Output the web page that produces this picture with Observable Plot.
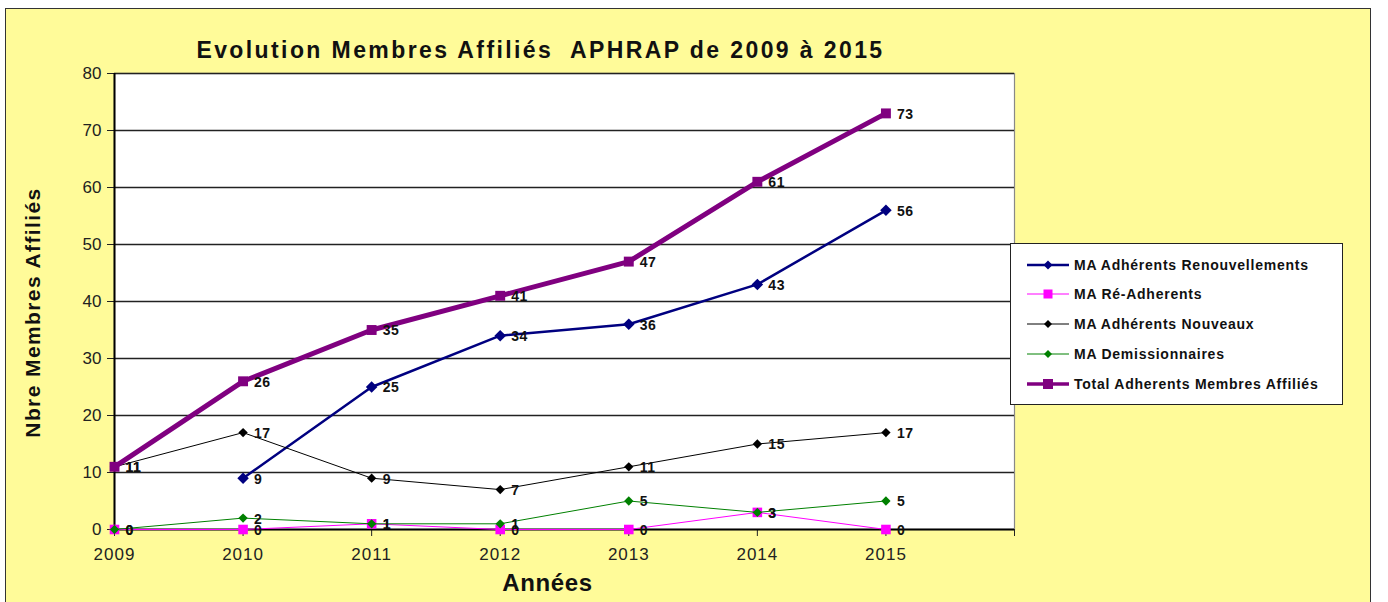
<!DOCTYPE html>
<html>
<head>
<meta charset="utf-8">
<script src="https://cdn.jsdelivr.net/npm/d3@7"></script>
<script src="https://cdn.jsdelivr.net/npm/@observablehq/plot@0.6"></script>
<style>
  body { margin: 0; background: #fff; font-family: "Liberation Sans", Arial, sans-serif; }
  #wrap { position: relative; width: 1388px; height: 602px; overflow: hidden; background: #fff; }
  #bg { position: absolute; left: 5px; top: 8px; width: 1366px; height: 640px; background: #FFFB99; border: 1.5px solid #333; box-sizing: border-box; }
  #chart { position: absolute; left: 0; top: 0; }
  #legend { position: absolute; left: 1010px; top: 243px; width: 333px; height: 162px; background: #fff; border: 1.5px solid #222; box-sizing: border-box; }
  .row { position: absolute; left: 16px; height: 16px; display: flex; align-items: center; }
  .row span { font-size: 14px; font-weight: bold; color: #111; margin-left: 5px; white-space: nowrap; letter-spacing: 0.75px; }
  .t-title text { letter-spacing: 2.4px; }
  .t-ylabel text { letter-spacing: 1.4px; }
  .t-xlabel text { letter-spacing: 0.6px; }
  .t-xaxis text { letter-spacing: 1px; }
  .t-values text { letter-spacing: 0.5px; }
</style>
</head>
<body>
<div id="wrap">
  <div id="bg"></div>
  <div id="chart"></div>
  <div id="legend"></div>
</div>
<script>
// ---- data ----
const years = [2009, 2010, 2011, 2012, 2013, 2014, 2015];
const renouvellements = [null, 9, 25, 34, 36, 43, 56];
const reAdherents = [0, 0, 1, 0, 0, 3, 0];
const nouveaux = [11, 17, 9, 7, 11, 15, 17];
const demissionnaires = [0, 2, 1, 1, 5, 3, 5];
const total = [11, 26, 35, 41, 47, 61, 73];
const seriesNames = [
  "MA Adhérents Renouvellements",
  "MA Ré-Adherents",
  "MA Adhérents Nouveaux",
  "MA Demissionnaires",
  "Total Adherents Membres Affiliés"
];
const yTicks = [0, 10, 20, 30, 40, 50, 60, 70, 80];
const xTicks = [2009, 2010, 2011, 2012, 2013, 2014, 2015, 2016];
const titleText = "Evolution Membres Affiliés\u00a0 APHRAP de 2009 à 2015";
const yLabel = "Nbre Membres Affiliés";
const xLabel = "Années";

// ---- styles ----
const seriesValues = [renouvellements, reAdherents, nouveaux, demissionnaires, total];
const colors = ["#000080", "#FF00FF", "#000000", "#008000", "#800080"];
const widths = [2.5, 1, 1, 1, 5];
const symbols = ["diamond2", "square", "diamond2", "diamond2", "square"];
const radii = [5.2, 5.4, 4.2, 4.2, 5.6];

const seriesData = seriesValues.map((vals, i) =>
  years.map((yr, j) => ({year: yr, value: vals[j], series: seriesNames[i]}))
       .filter(d => d.value !== null)
);
const allPoints = seriesData.flat();

const marks = [
  Plot.frame({fill: "white", stroke: "#888", strokeWidth: 1.2}),
  Plot.ruleY(yTicks.filter(d => d > 0), {y: d => d, stroke: "#222", strokeWidth: 1.3}),
  Plot.axisY({ticks: yTicks, tickSize: 7, tickPadding: 6, fontSize: 17, color: "#222", label: null, tickFormat: d => String(d)}),
  Plot.axisX({ticks: xTicks, tickSize: 7, tickPadding: 11, fontSize: 17, color: "#222", label: null, tickFormat: d => d <= 2015 ? String(d) : "", className: "t-xaxis"}),
  Plot.ruleX([2009], {x: d => d, stroke: "#000", strokeWidth: 2}),
  Plot.ruleY([0], {y: d => d, stroke: "#000", strokeWidth: 2})
];
seriesData.forEach((data, i) => {
  marks.push(Plot.line(data, {x: "year", y: "value", stroke: colors[i], strokeWidth: widths[i]}));
  marks.push(Plot.dot(data, {x: "year", y: "value", symbol: () => symbols[i], r: radii[i], fill: colors[i], stroke: "none"}));
});
marks.push(Plot.text(allPoints, {x: "year", y: "value", text: d => String(d.value), dx: 11, dy: 1, textAnchor: "start", fontWeight: "bold", fontSize: 14, fill: "#111", className: "t-values"}));
marks.push(Plot.text([titleText], {text: d => d, frameAnchor: "top", lineAnchor: "middle", textAnchor: "middle", dx: -24, dy: -23, fontSize: 23, fontWeight: "bold", fill: "#111", className: "t-title"}));
marks.push(Plot.text([yLabel], {text: d => d, frameAnchor: "left", lineAnchor: "middle", textAnchor: "middle", dx: -81, dy: 11, rotate: -90, fontSize: 21, fontWeight: "bold", fill: "#111", className: "t-ylabel"}));
marks.push(Plot.text([xLabel], {text: d => d, frameAnchor: "bottom", lineAnchor: "middle", textAnchor: "middle", dx: -17, dy: 54, fontSize: 24, fontWeight: "bold", fill: "#111", className: "t-xlabel"}));

const chart = Plot.plot({
  width: 1388,
  height: 602,
  marginLeft: 114,
  marginRight: 374,
  marginTop: 73,
  marginBottom: 73,
  style: {background: "transparent", fontFamily: "Liberation Sans, Arial, sans-serif", overflow: "visible"},
  x: {type: "linear", domain: [2009, 2016]},
  y: {type: "linear", domain: [0, 80]},
  marks
});
document.getElementById("chart").appendChild(chart);

// ---- legend ----
const legend = document.getElementById("legend");
const rowTops = [13, 42, 72, 102, 132];
seriesNames.forEach((name, i) => {
  const row = document.createElement("div");
  row.className = "row";
  row.style.top = rowTops[i] + "px";
  const s = d3.create("svg").attr("width", 42).attr("height", 16);
  s.append("line").attr("x1", 0).attr("x2", 42).attr("y1", 8).attr("y2", 8)
    .attr("stroke", colors[i]).attr("stroke-width", Math.min(widths[i], 3.5));
  if (symbols[i] === "square") {
    const side = i === 4 ? 10 : 9;
    s.append("rect").attr("x", 21 - side / 2).attr("y", 8 - side / 2).attr("width", side).attr("height", side).attr("fill", colors[i]);
  } else {
    const h = i === 0 ? 4.5 : 4;
    s.append("path").attr("d", `M21,${8 - h}L${21 + h},8L21,${8 + h}L${21 - h},8Z`).attr("fill", colors[i]);
  }
  row.appendChild(s.node());
  const t = document.createElement("span");
  t.textContent = name;
  row.appendChild(t);
  legend.appendChild(row);
});
</script>
</body>
</html>
